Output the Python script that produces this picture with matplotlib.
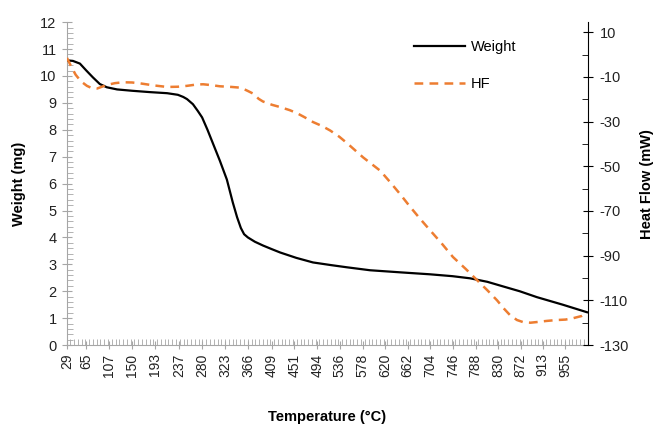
import numpy as np
import matplotlib.pyplot as plt
from matplotlib.ticker import MultipleLocator, FixedLocator

plt.rcParams['font.family'] = ['Liberation Sans', 'DejaVu Sans']
plt.rcParams['axes.unicode_minus'] = False

# --------------------------
# data
# --------------------------
# x tick labels (temperature, deg C)
temp_ticks = [29, 65, 107, 150, 193, 237, 280, 323, 366, 409, 451, 494,
              536, 578, 620, 662, 704, 746, 788, 830, 872, 913, 955]

# weight curve (mg)
w_temp = [29, 40, 53, 65, 77, 90, 103, 122, 150, 183, 215, 235, 245, 252,
          263, 272, 280, 290, 300, 313, 326, 337, 345, 352, 358, 365, 378,
          393, 410, 425, 455, 486, 520, 549, 592, 650, 703, 745, 778, 810,
          839, 870, 902, 950, 995]
weight = [10.58, 10.56, 10.46, 10.2, 9.95, 9.7, 9.58, 9.5, 9.45, 9.4, 9.36,
          9.3, 9.22, 9.14, 8.95, 8.7, 8.46, 8.0, 7.5, 6.85, 6.15, 5.3, 4.75,
          4.35, 4.12, 4.0, 3.84, 3.7, 3.56, 3.44, 3.24, 3.07, 2.97, 2.89, 2.78,
          2.7, 2.63, 2.56, 2.48, 2.35, 2.18, 2.0, 1.78, 1.5, 1.22]

# heat flow curve (mW)
hf_temp = [29, 35, 45, 55, 66, 75, 85, 95, 103, 118, 133, 150, 165, 190, 215,
           235, 252, 270, 282, 298, 313, 335, 350, 358, 365, 375, 385, 393,
           410, 425, 443, 456, 470, 486, 503, 518, 535, 549, 565, 579, 595,
           611, 629, 648, 666, 685, 703, 725, 746, 770, 791, 810, 828, 840,
           852, 865, 876, 890, 902, 920, 939, 955, 969, 985, 995]
heat_flow = [-1.5, -4.5, -9, -12, -14, -15, -15.2, -14.3, -13.6, -12.8, -12.4,
             -12.5, -12.9, -13.8, -14.5, -14.4, -14.0, -13.4, -13.3, -13.7,
             -14.2, -14.5, -14.8, -15.5, -16.3, -17.5, -19.8, -21.0, -22.5,
             -23.5, -24.9, -26.2, -28, -30.2, -32, -34, -36.8, -39.6, -43, -46,
             -49, -52, -57, -62.5, -68, -73.5, -78.5, -84.5, -90.6, -96, -101,
             -105.5, -110, -113.5, -116.6, -118.8, -119.7, -120, -119.7,
             -119.2, -118.8, -118.6, -118, -117, -115.6]

# --------------------------
# figure
# --------------------------
fig = plt.figure(figsize=(6.6, 4.26), dpi=100)
ax = fig.add_axes([0.1015, 0.19, 0.7895, 0.758])
ax2 = ax.twinx()

grey = '#a6a6a6'
txt = '#222222'

l1, = ax.plot(w_temp, weight, color='black', lw=1.6, label='Weight', zorder=3)
l2, = ax2.plot(hf_temp, heat_flow, color='#ed7d31', lw=1.8, ls=(0, (3.5, 2.5)),
               label='HF')

ax.set_xlim(29, 997)
ax.set_ylim(0, 12)
ax2.set_ylim(-130, 14.5)

# left axis
ax.yaxis.set_major_locator(MultipleLocator(1))
ax.yaxis.set_minor_locator(MultipleLocator(0.2))
ax.tick_params(axis='y', which='major', direction='inout', length=7,
               color=grey, labelsize=10.5, labelcolor=txt, pad=4)
ax.tick_params(axis='y', which='minor', direction='in', length=4, color=grey)

# x axis
ax.xaxis.set_major_locator(FixedLocator(temp_ticks))
ax.set_xticklabels([str(t) for t in temp_ticks], rotation=90)
ax.xaxis.set_minor_locator(MultipleLocator((997 - 29) / 23 / 6))
ax.tick_params(axis='x', which='major', direction='inout', length=6,
               color=grey, labelsize=10, labelcolor=txt, pad=3)
ax.tick_params(axis='x', which='minor', direction='in', length=4, color=grey)

# right axis
ax2.yaxis.set_major_locator(FixedLocator(np.arange(-130, 11, 20)))
ax2.yaxis.set_minor_locator(FixedLocator(np.arange(-120, 11, 20)))
ax2.tick_params(axis='y', which='major', direction='inout', length=7,
                color='black', labelsize=10.5, labelcolor=txt, pad=5)
ax2.tick_params(axis='y', which='minor', direction='in', length=4, color='black')

for a in (ax, ax2):
    a.spines['top'].set_visible(False)
ax.spines['left'].set_color(grey)
ax.spines['bottom'].set_color(grey)
ax.spines['right'].set_visible(False)
ax2.spines['left'].set_visible(False)
ax2.spines['bottom'].set_visible(False)
ax2.spines['right'].set_color('black')

ax.set_ylabel('Weight (mg)', fontsize=10.5, fontweight='bold', labelpad=10)
ax2.set_ylabel('Heat Flow (mW)', fontsize=10.5, fontweight='bold', labelpad=8)
ax.set_xlabel('Temperature (°C)', fontsize=10.5, fontweight='bold', labelpad=24)

ax2.legend([l1, l2], ['Weight', 'HF'], loc='upper left',
           bbox_to_anchor=(0.64, 0.985), frameon=False, fontsize=10.5,
           handlelength=3.5, handletextpad=0.45, labelspacing=1.6)

plt.savefig('out.png', dpi=100)
